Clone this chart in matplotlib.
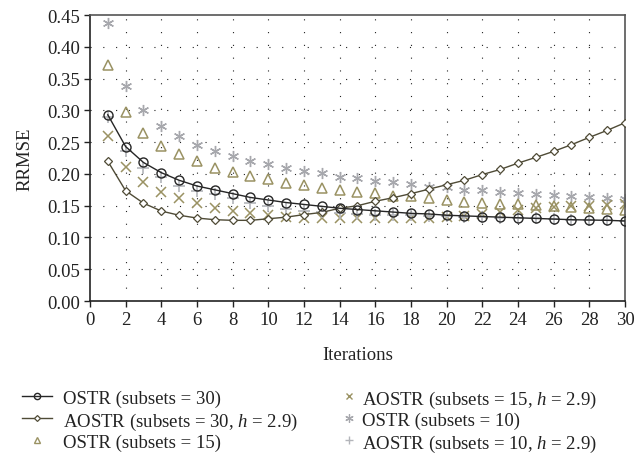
import matplotlib
matplotlib.use("Agg")
import matplotlib.pyplot as plt
from matplotlib.lines import Line2D

plt.rcParams["font.family"] = ["Liberation Serif", "DejaVu Serif"]
plt.rcParams["mathtext.fontset"] = "custom"
plt.rcParams["mathtext.rm"] = "Liberation Serif"
plt.rcParams["mathtext.it"] = "Liberation Serif:italic"

iterations = list(range(1, 31))

ostr_30 = [0.293, 0.243, 0.218, 0.202, 0.190, 0.181, 0.175, 0.169, 0.163, 0.159,
           0.155, 0.152, 0.149, 0.146, 0.144, 0.142, 0.140, 0.138, 0.137, 0.135,
           0.134, 0.133, 0.132, 0.131, 0.130, 0.129, 0.128, 0.1275, 0.127, 0.126]
aostr_30 = [0.220, 0.1735, 0.154, 0.1416, 0.135, 0.1306, 0.128, 0.127, 0.127, 0.1295,
            0.132, 0.136, 0.1395, 0.146, 0.150, 0.157, 0.1626, 0.169, 0.176, 0.183,
            0.190, 0.199, 0.207, 0.217, 0.226, 0.2355, 0.246, 0.2575, 0.2685, 0.2805]
ostr_15 = [0.371, 0.297, 0.265, 0.244, 0.231, 0.220, 0.210, 0.2035, 0.197, 0.1915,
           0.186, 0.182, 0.178, 0.175, 0.172, 0.1695, 0.166, 0.165, 0.1626, 0.159,
           0.156, 0.155, 0.153, 0.152, 0.1505, 0.149, 0.1475, 0.146, 0.145, 0.1436]
aostr_15 = [0.260, 0.211, 0.188, 0.172, 0.162, 0.154, 0.147, 0.142, 0.138, 0.135,
            0.133, 0.131, 0.130, 0.130, 0.130, 0.130, 0.130, 0.130, 0.131, 0.132,
            0.134, 0.137, 0.140, 0.143, 0.146, 0.148, 0.149, 0.150, 0.151, 0.152]
ostr_10 = [0.437, 0.339, 0.3005, 0.276, 0.260, 0.246, 0.2365, 0.2286, 0.2208, 0.2156,
           0.209, 0.204, 0.201, 0.1956, 0.193, 0.189, 0.1868, 0.1836, 0.180, 0.179,
           0.175, 0.174, 0.172, 0.1695, 0.168, 0.1668, 0.1647, 0.1636, 0.162, 0.1605]
aostr_10 = [0.289, 0.2365, 0.210, 0.1946, 0.1815, 0.1736, 0.168, 0.1616, 0.155, 0.150,
            0.1448, 0.142, 0.1395, 0.138, 0.137, 0.136, 0.135, 0.135, 0.134, 0.134,
            0.133, 0.132, 0.131, 0.131, 0.130, 0.129, 0.128, 0.127, 0.127, 0.126]

labels = [
    "OSTR (subsets = 30)",
    "AOSTR (subsets = 30, $h$ = 2.9)",
    "OSTR (subsets = 15)",
    "AOSTR (subsets = 15, $h$ = 2.9)",
    "OSTR (subsets = 10)",
    "AOSTR (subsets = 10, $h$ = 2.9)",
]

x_ticks = list(range(0, 31, 2))
y_ticks = [0.00, 0.05, 0.10, 0.15, 0.20, 0.25, 0.30, 0.35, 0.40, 0.45]

c_black = "#262626"
c_olive_dark = "#4f4b36"
c_olive = "#9a9263"
c_gray = "#a7a8ad"
c_gray_light = "#b3b5ba"
asterisk = (6, 2, 0)
fs = 13.5

W, H = 635, 464
fig = plt.figure(figsize=(W / 100, H / 100), dpi=100)
ax = fig.add_axes([0.1417, 0.349, 0.8425, 0.6165])

grid_style = dict(color="#222222", linewidth=0.8, linestyle=(0, (1, 10.5)), zorder=0)
for yv in y_ticks[1:-1]:
    ax.axhline(yv, **grid_style)
for xv in x_ticks[1:-1]:
    ax.axvline(xv, **grid_style)

# series styles: (values, plot kwargs, key-handle kwargs, has connecting line)
series = [
    (ostr_30, dict(linestyle="-", linewidth=1.0, marker="o", markersize=6.5,
                   markerfacecolor="none", markeredgewidth=1.0, color=c_black, zorder=4),
     dict(marker="o", markersize=4.5, markerfacecolor="none", markeredgewidth=1.0,
          color=c_black), True),
    (aostr_30, dict(linestyle="-", linewidth=1.0, marker="D", markersize=4,
                    markerfacecolor="white", markeredgewidth=0.9, color=c_olive_dark, zorder=3),
     dict(marker="D", markersize=3, markerfacecolor="white", markeredgewidth=0.9,
          color=c_olive_dark), True),
    (ostr_15, dict(linestyle="none", marker="^", markersize=7, markerfacecolor="none",
                   markeredgewidth=1.1, color=c_olive, zorder=2),
     dict(marker="^", markersize=5, markerfacecolor="none", markeredgewidth=1.0,
          color=c_olive), False),
    (aostr_15, dict(linestyle="none", marker="x", markersize=6.5, markeredgewidth=1.1,
                    color=c_olive, zorder=2),
     dict(marker="x", markersize=5, markeredgewidth=1.0, color=c_olive), False),
    (ostr_10, dict(linestyle="none", marker=asterisk, markersize=8, markeredgewidth=1.0,
                   color=c_gray, zorder=2),
     dict(marker=asterisk, markersize=6, markeredgewidth=0.9, color=c_gray), False),
    (aostr_10, dict(linestyle="none", marker="+", markersize=8, markeredgewidth=1.2,
                    color=c_gray_light, zorder=2),
     dict(marker="+", markersize=6, markeredgewidth=1.0, color=c_gray_light), False),
]

draw_order = [4, 2, 3, 5, 1, 0]
for k in draw_order:
    vals, kw, _, _ = series[k]
    ax.plot(iterations, vals, **kw)

ax.set_xlim(0, 30)
ax.set_ylim(0, 0.45)
ax.set_xticks(x_ticks)
ax.set_yticks(y_ticks)
ax.set_yticklabels([f"{v:.2f}" for v in y_ticks])
ax.tick_params(axis="both", direction="out", length=4, width=1.0,
               labelsize=fs, colors="#222222", pad=3)
for side in ("left", "bottom"):
    ax.spines[side].set_color("#222222")
    ax.spines[side].set_linewidth(1.2)
for side in ("top", "right"):
    ax.spines[side].set_color("#555555")
    ax.spines[side].set_linewidth(1.2)

ax.set_xlabel("Iterations", fontsize=fs, labelpad=13, color="#222222")
ax.set_ylabel("RRMSE", fontsize=fs, labelpad=10, color="#222222")

# key below the plot, two columns of three rows
row_y = [397, 419, 441]
cols = [dict(x0=22, x1=52, tx=63), dict(x0=349, x1=349, tx=362)]
for k, (vals, _, hkw, has_line) in enumerate(series):
    col = cols[k // 3]
    yy = 1 - row_y[k % 3] / H
    xm = (col["x0"] + col["x1"]) / 2 / W
    if has_line:
        fig.add_artist(Line2D([col["x0"] / W, col["x1"] / W], [yy, yy],
                              transform=fig.transFigure, color=hkw["color"],
                              linewidth=1.0))
    fig.add_artist(Line2D([xm], [yy], transform=fig.transFigure, linestyle="none",
                          **hkw))
    fig.text(col["tx"] / W, yy, labels[k], fontsize=fs, color="#222222",
             ha="left", va="center_baseline")

fig.savefig("out.png", dpi=100)
